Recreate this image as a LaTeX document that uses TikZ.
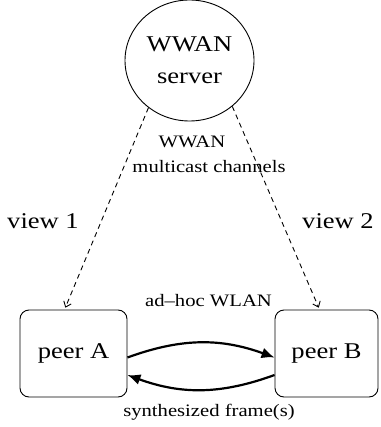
\documentclass[tikz,border=0pt]{standalone}
\usepackage{fontspec}
\setmainfont{Liberation Serif}
\newfontfamily\wfont[FakeStretch=1.18]{Liberation Serif}
\usetikzlibrary{shapes.geometric,arrows.meta}
\begin{document}
\begin{tikzpicture}[x=1pt,y=-1pt,
  bigtext/.style={font={\wfont\fontsize{22.5}{32}\selectfont}},
  smalltext/.style={font={\wfont\fontsize{17.5}{21}\selectfont}, inner sep=0pt, anchor=base},
  serverstyle/.style={draw, ellipse, line width=0.9pt, minimum width=129pt, minimum height=121pt, inner sep=0pt, align=center, bigtext},
  peerbox/.style={draw, line width=0.9pt, rounded corners=9pt, minimum height=87pt, inner sep=0pt, bigtext},
  wwanlink/.style={dash pattern=on 5pt off 4pt, line width=0.9pt, shorten >=2pt, -{Straight Barb[length=5pt,width=8pt]}},
  wlanlink/.style={line width=2.2pt, -{Latex[length=13pt,width=11pt]}}]
\useasboundingbox (0,0) rectangle (380,427);

\node[serverstyle] (server) at (189.5,60.5) {WWAN\\server};
\node[peerbox, minimum width=107pt] (peerA) at (73.5,353.5) {peer A};
\node[peerbox, minimum width=103pt] (peerB) at (326.5,353.5) {peer B};

\node[smalltext] (wwanlbl) at (192,148) {WWAN};
\node[smalltext] (mclbl) at (209,173) {multicast channels};
\node[bigtext, inner sep=0pt, anchor=base] (view1) at (43,228) {view 1};
\node[bigtext, inner sep=0pt, anchor=base] (view2) at (338,228) {view 2};
\node[smalltext] (wlanlbl) at (208.5,306) {ad–hoc WLAN};
\node[smalltext] (synlbl) at (209,416) {synthesized frame(s)};

\draw[wwanlink] (server.229) -- ([xshift=45pt]peerA.north west);
\draw[wwanlink] (server.313) -- ([xshift=45pt]peerB.north west);

\draw[wlanlink] ([yshift=-4pt]peerA.east) to[bend left=20] ([yshift=-4pt]peerB.west);
\draw[wlanlink] ([yshift=-21.5pt]peerB.west) to[bend left=20] ([yshift=-21.5pt]peerA.east);
\end{tikzpicture}
\end{document}
